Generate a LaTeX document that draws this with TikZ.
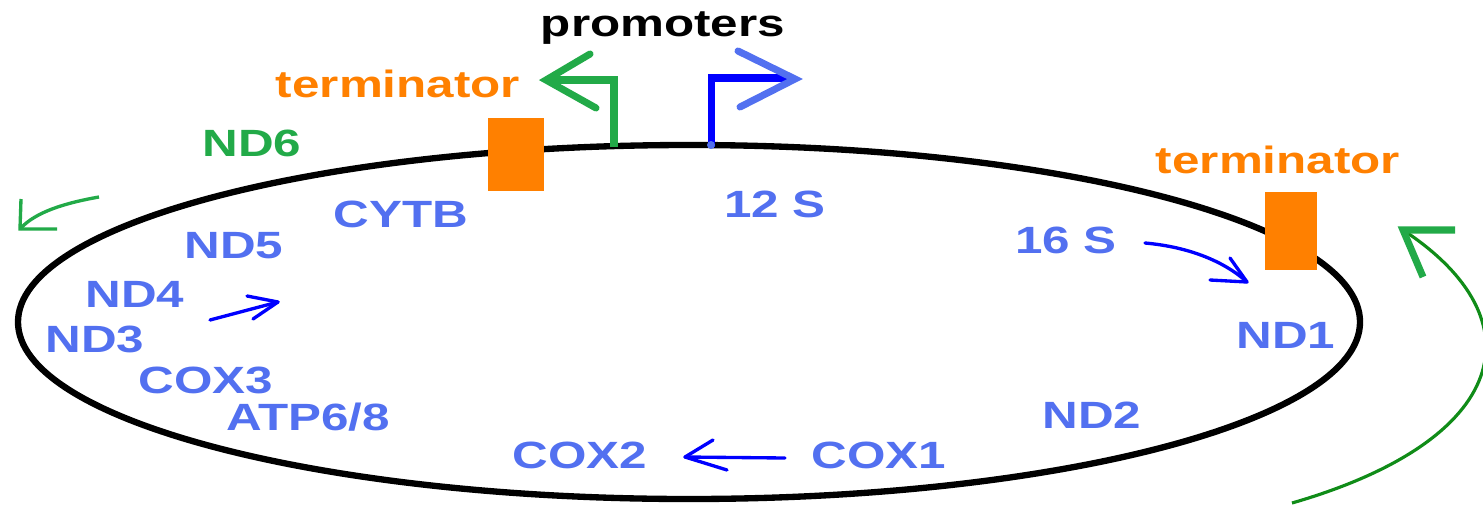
\documentclass[tikz,border=0pt]{standalone}
\usepackage{fontspec}
\setmainfont{Liberation Sans}
\usepackage{graphicx}
\usepackage{tikz}

\definecolor{geneblue}{RGB}{82,112,240}
\definecolor{promgreen}{RGB}{34,170,72}
\definecolor{loopgreen}{RGB}{16,140,24}
\definecolor{termorange}{RGB}{255,128,0}

\newcommand{\widetext}[1]{\scalebox{1.3}[1]{#1}}

\tikzset{
  gene/.style={font=\fontsize{10.8}{12}\selectfont\bfseries, text=geneblue, inner sep=0pt, anchor=base},
  termlbl/.style={gene, text=termorange},
  thinarrow/.style={blue, line width=0.95pt, line cap=round, line join=round},
}

\begin{document}
\begin{tikzpicture}[x=0.01cm,y=-0.01cm]
\useasboundingbox (0,0) rectangle (1483,506);

% Genome circle
\draw[line width=1.8pt] (689,322) ellipse [x radius=671, y radius=177];

% Terminators
\fill[termorange] (488,118) rectangle (544,191);
\fill[termorange] (1265,192) rectangle (1317,270);

% Promoters
\draw[promgreen, line width=2pt] (614,147) -- (614,80) -- (548,80);
\draw[promgreen, line width=2pt, line cap=round] (590,54) -- (546,80) -- (596,108);
\draw[blue, line width=2pt] (711,147) -- (711,78) -- (790,78);
\draw[geneblue, line width=2pt, line cap=round] (738,51) -- (795,79) -- (740,107);
\fill[geneblue] (711,145) circle [radius=4];

% Labels
\node[gene, text=black] (promlbl) at (663,37) {\widetext{promoters}};
\node[termlbl] (termA) at (398,97) {\widetext{terminator}};
\node[termlbl] (termB) at (1278,173) {\widetext{terminator}};
\node[gene, text=promgreen] (nd6) at (252,156) {\widetext{ND6}};
\node[gene] (cytb) at (401,227) {\widetext{CYTB}};
\node[gene] (s12) at (775,217) {\widetext{12 S}};
\node[gene] (s16) at (1066,253) {\widetext{16 S}};
\node[gene] (nd5) at (234,258) {\widetext{ND5}};
\node[gene] (nd4) at (135,307) {\widetext{ND4}};
\node[gene] (nd3) at (95,352) {\widetext{ND3}};
\node[gene] (cox3) at (206,393) {\widetext{COX3}};
\node[gene] (atp) at (308,430) {\widetext{ATP6/8}};
\node[gene] (cox2) at (580,468) {\widetext{COX2}};
\node[gene] (cox1) at (879,468) {\widetext{COX1}};
\node[gene] (nd2) at (1092,428) {\widetext{ND2}};
\node[gene] (nd1) at (1286,348) {\widetext{ND1}};

% Direction of transcription, blue
\draw[thinarrow] (1145,243) .. controls (1190,247) and (1225,262) .. (1247,282);
\draw[thinarrow] (1230,258) -- (1247,282) -- (1210,280);
\draw[thinarrow] (210,320) -- (278,302);
\draw[thinarrow] (247,296) -- (278,302) -- (253,319);
\draw[thinarrow] (785,458) -- (685,457);
\draw[thinarrow] (713,440) -- (685,457) -- (727,470);

% Direction of transcription, green
\draw[promgreen, line width=0.95pt] (99,197) .. controls (65,203) and (35,212) .. (20,229);
\draw[promgreen, line width=0.95pt] (21,199) -- (20,229) -- (57,229);
\draw[loopgreen, line width=0.9pt] (1292,503) .. controls (1510,440) and (1540,320) .. (1403,230);
\draw[promgreen, line width=2pt] (1455,230) -- (1403,230) -- (1423,277);

\end{tikzpicture}
\end{document}
